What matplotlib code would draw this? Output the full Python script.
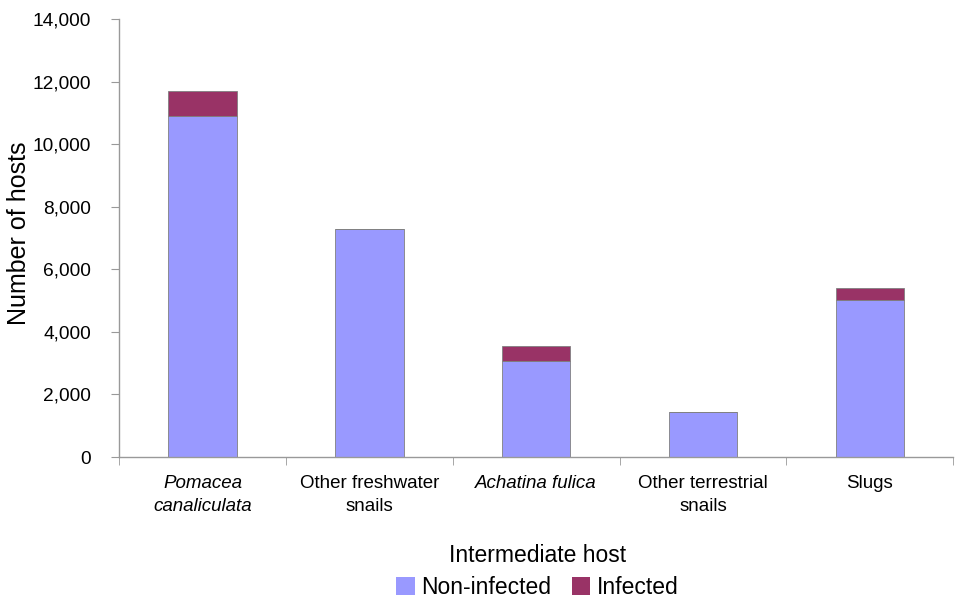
import matplotlib
matplotlib.use("Agg")
import matplotlib.pyplot as plt
import numpy as np

categories = ["Pomacea\ncanaliculata", "Other freshwater\nsnails", "Achatina fulica",
              "Other terrestrial\nsnails", "Slugs"]
italic = [True, False, True, False, False]
non_infected = [10900, 7290, 3070, 1440, 5010]
infected = [800, 0, 480, 0, 390]
yticks = [0, 2000, 4000, 6000, 8000, 10000, 12000, 14000]

plt.rcParams['font.family'] = ['Liberation Sans', 'DejaVu Sans']

fig = plt.figure(figsize=(9.6, 5.99), dpi=100)
ax = fig.add_axes([0.124, 0.237, 0.869, 0.731])

x = np.arange(len(categories))
w = 0.41
ax.bar(x, non_infected, width=w, color='#9999FF', edgecolor='#808080', linewidth=0.6,
       label='Non-infected')
ax.bar(x, infected, width=w, bottom=non_infected, color='#993366', edgecolor='#808080',
       linewidth=0.6, label='Infected')

ax.set_xlim(-0.5, len(categories) - 0.5)
ax.set_ylim(0, 14000)
ax.set_yticks(yticks)
ax.set_yticklabels([f"{v:,}" for v in yticks], fontsize=13.8)
ax.set_ylabel("Number of hosts", fontsize=18)
ax.yaxis.set_label_coords(-0.106, 0.51)

ax.set_xticks(x)
ax.set_xticklabels(categories, fontsize=13.5, linespacing=1.45)
for lbl, it in zip(ax.get_xticklabels(), italic):
    if it:
        lbl.set_style('italic')
ax.tick_params(axis='x', which='major', length=0, pad=13)
ax.set_xticks(np.arange(-0.5, len(categories)), minor=True)
ax.tick_params(axis='x', which='minor', length=6, color='#999999', direction='out')
ax.tick_params(axis='y', length=6, color='#999999', direction='out', pad=14)

for s in ['top', 'right']:
    ax.spines[s].set_visible(False)
for s in ['left', 'bottom']:
    ax.spines[s].set_color('#999999')
    ax.spines[s].set_linewidth(1.0)

leg = fig.legend(loc='lower center', bbox_to_anchor=(0.56, -0.034), ncol=2, frameon=False,
                 title='Intermediate host', fontsize=16.5, title_fontsize=16.5,
                 handlelength=0.8, handleheight=0.8, handletextpad=0.3, columnspacing=0.9,
                 labelspacing=0.3)
leg._legend_box.sep = 6
for h in leg.legend_handles:
    h.set_edgecolor('none')

fig.savefig("out.png", dpi=100)
